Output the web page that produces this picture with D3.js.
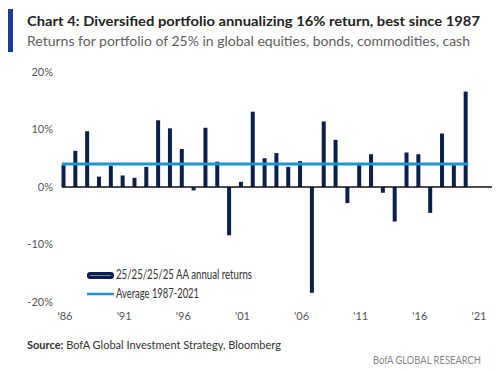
<!DOCTYPE html>
<html>
<head>
<meta charset="utf-8">
<script src="https://cdn.jsdelivr.net/npm/d3@7"></script>
<style>
  body { margin: 0; background: #fff; }
  text { font-family: Lato, "Open Sans", sans-serif; }
</style>
</head>
<body>
<svg id="chart"></svg>
<script>
// years of the portfolio returns
var years = d3.range(1987, 2022);
// 25/25/25/25 AA annual returns, %
var returns = [
  3.8, 6.3, 9.7, 1.8, 3.7, 2.0, 1.6, 3.5, 11.6, 10.2,
  6.6, -0.6, 10.3, 4.4, -8.4, 0.9, 13.1, 5.0, 5.9, 3.5,
  4.5, -18.4, 11.4, 8.2, -2.8, 3.8, 5.7, -1.0, -6.0, 6.0,
  5.7, -4.5, 9.3, 3.8, 16.6
];
var average = 4.0;
var yTicks = [20, 10, 0, -10, -20];
var xTicks = [1986, 1991, 1996, 2001, 2006, 2011, 2016, 2021];
var legendNames = ["25/25/25/25 AA annual returns", "Average 1987-2021"];

var W = 500, H = 371;
var navy = "#0b1f4b", blue = "#1b95d3", grey = "#555";

var svg = d3.select("#chart").attr("width", W).attr("height", H);

var x = d3.scaleLinear().domain([1986, 2021]).range([65, 479]);
var y = d3.scaleLinear().domain([-20, 20]).range([302, 72]);

// header
svg.append("rect").attr("x", 8).attr("y", 9).attr("width", 5).attr("height", 43).attr("fill", "#1a3a9c");
svg.append("text").attr("x", 27).attr("y", 26)
  .attr("font-size", 14).attr("font-weight", "bold").attr("fill", "#222")
  .attr("textLength", 453).attr("lengthAdjust", "spacingAndGlyphs")
  .text("Chart 4: Diversified portfolio annualizing 16% return, best since 1987");
svg.append("text").attr("x", 27).attr("y", 46)
  .attr("font-size", 14).attr("fill", "#606060")
  .attr("textLength", 443).attr("lengthAdjust", "spacingAndGlyphs")
  .text("Returns for portfolio of 25% in global equities, bonds, commodities, cash");

// y tick labels
svg.selectAll(".ylab").data(yTicks).enter().append("text")
  .attr("class", "ylab")
  .attr("x", 53).attr("y", function(d){ return y(d); })
  .attr("dy", "0.35em").attr("text-anchor", "end")
  .attr("font-size", 11).attr("fill", grey)
  .text(function(d){ return d + "%"; });

// x tick labels
svg.selectAll(".xlab").data(xTicks).enter().append("text")
  .attr("class", "xlab")
  .attr("x", function(d){ return x(d); }).attr("y", 316)
  .attr("dy", "0.35em").attr("text-anchor", "middle")
  .attr("font-size", 11).attr("fill", grey)
  .text(function(d){ return "'" + String(d).slice(2); });

// bars - each one sits at the start of its year
svg.selectAll(".bar").data(returns).enter().append("rect")
  .attr("class", "bar")
  .attr("x", function(d, i){ return x(years[i] - 1) - 3.5; })
  .attr("y", function(d){ return y(Math.max(0, d)); })
  .attr("width", 4)
  .attr("height", function(d){ return Math.abs(y(d) - y(0)); })
  .attr("fill", navy);

// zero line
svg.append("line")
  .attr("x1", 62).attr("x2", 492)
  .attr("y1", y(0)).attr("y2", y(0))
  .attr("stroke", "#111").attr("stroke-width", 1.5);

// average line
svg.append("line")
  .attr("x1", x(years[0] - 1) - 3).attr("x2", x(years[years.length - 1] - 1) + 1)
  .attr("y1", y(average)).attr("y2", y(average))
  .attr("stroke", blue).attr("stroke-width", 3);

// legend
var lg = svg.append("g");
lg.append("rect").attr("x", 87).attr("y", 272).attr("width", 27).attr("height", 7).attr("rx", 3)
  .attr("fill", navy);
lg.append("line").attr("x1", 90).attr("x2", 111).attr("y1", 275.5).attr("y2", 275.5)
  .attr("stroke", "#6c7fa6").attr("stroke-width", 1);
lg.append("line").attr("x1", 87).attr("x2", 114).attr("y1", 294).attr("y2", 294)
  .attr("stroke", blue).attr("stroke-width", 2.5);
var legendWidths = [136, 83];
lg.selectAll("text").data(legendNames).enter().append("text")
  .attr("x", 116).attr("y", function(d, i){ return 275 + i * 19; })
  .attr("dy", "0.35em").attr("font-size", 12.5).attr("fill", "#333")
  .attr("textLength", function(d, i){ return legendWidths[i]; })
  .attr("lengthAdjust", "spacingAndGlyphs")
  .text(function(d){ return d; });

// footer
var src = svg.append("text").attr("x", 27).attr("y", 349).attr("font-size", 11).attr("fill", "#333");
src.append("tspan").attr("font-weight", "bold").text("Source:");
src.append("tspan").text("  BofA Global Investment Strategy, Bloomberg");
svg.append("text").attr("x", 373).attr("y", 364)
  .attr("font-size", 11).attr("fill", "#888")
  .attr("textLength", 108).attr("lengthAdjust", "spacingAndGlyphs")
  .text("BofA GLOBAL RESEARCH");
</script>
</body>
</html>
